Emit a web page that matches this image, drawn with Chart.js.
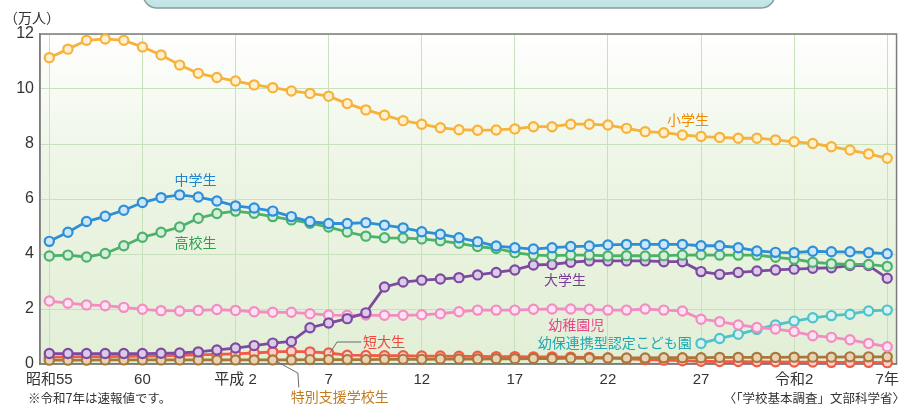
<!DOCTYPE html>
<html lang="ja">
<head>
<meta charset="utf-8">
<script src="https://cdn.jsdelivr.net/npm/chart.js@4/dist/chart.umd.min.js"></script>
<style>
  html, body { margin: 0; padding: 0; background: #fff; }
  canvas { display: block; }
</style>
</head>
<body>
<canvas id="grafic" width="906" height="405"></canvas>
<script>
// 昭和55年(1980) 〜 令和7年(2025)
const tickIdx = [0, 5, 10, 15, 20, 25, 30, 35, 40, 45];
const tickLabels = ['昭和55', '60', '平成 2', '7', '12', '17', '22', '27', '令和2', '7年'];

const shogaku = [11.14, 11.45, 11.77, 11.82, 11.77, 11.53, 11.24, 10.87, 10.57, 10.42,
  10.29, 10.15, 10.05, 9.93, 9.84, 9.74, 9.47, 9.24, 9.05, 8.85,
  8.72, 8.59, 8.52, 8.50, 8.51, 8.55, 8.63, 8.63, 8.72, 8.72,
  8.69, 8.57, 8.45, 8.41, 8.33, 8.27, 8.24, 8.21, 8.21, 8.15,
  8.08, 8.02, 7.90, 7.78, 7.64, 7.48];
const chugaku = [4.46, 4.79, 5.18, 5.37, 5.59, 5.87, 6.05, 6.15, 6.07, 5.93,
  5.75, 5.67, 5.56, 5.36, 5.18, 5.11, 5.11, 5.14, 5.05, 4.95,
  4.81, 4.72, 4.59, 4.45, 4.29, 4.23, 4.18, 4.23, 4.27, 4.29,
  4.33, 4.35, 4.35, 4.35, 4.35, 4.30, 4.30, 4.23, 4.11, 4.06,
  4.05, 4.10, 4.08, 4.08, 4.05, 4.01];
const kokou = [3.93, 3.96, 3.89, 4.02, 4.30, 4.61, 4.79, 4.98, 5.30, 5.47,
  5.56, 5.48, 5.36, 5.24, 5.12, 4.98, 4.80, 4.65, 4.59, 4.58,
  4.55, 4.48, 4.39, 4.27, 4.20, 4.05, 3.96, 3.94, 3.96, 3.96,
  3.93, 3.94, 3.93, 3.94, 3.96, 3.97, 3.96, 3.96, 3.96, 3.88,
  3.81, 3.70, 3.65, 3.62, 3.62, 3.55];
const daigaku = [0.38, 0.38, 0.38, 0.38, 0.38, 0.38, 0.39, 0.40, 0.44, 0.51,
  0.58, 0.67, 0.76, 0.82, 1.32, 1.49, 1.65, 1.86, 2.80, 2.98,
  3.05, 3.09, 3.14, 3.24, 3.33, 3.42, 3.60, 3.62, 3.70, 3.75,
  3.75, 3.75, 3.75, 3.72, 3.72, 3.36, 3.26, 3.33, 3.38, 3.42,
  3.45, 3.48, 3.50, 3.58, 3.58, 3.12];
const youchien = [2.29, 2.21, 2.15, 2.12, 2.06, 1.99, 1.94, 1.93, 1.95, 1.98,
  1.95, 1.90, 1.88, 1.88, 1.83, 1.78, 1.77, 1.78, 1.77, 1.77,
  1.79, 1.83, 1.90, 1.96, 1.96, 1.96, 1.99, 2.00, 2.00, 1.99,
  1.96, 1.96, 2.00, 1.96, 1.93, 1.63, 1.54, 1.42, 1.33, 1.27,
  1.18, 1.03, 0.97, 0.88, 0.75, 0.63];
const kodomoen = [null, null, null, null, null, null, null, null, null, null,
  null, null, null, null, null, null, null, null, null, null,
  null, null, null, null, null, null, null, null, null, null,
  null, null, null, null, null, 0.75, 0.93, 1.08, 1.26, 1.42,
  1.56, 1.68, 1.76, 1.81, 1.93, 1.96];
const tandai = [0.25, 0.26, 0.27, 0.27, 0.28, 0.29, 0.30, 0.31, 0.33, 0.35,
  0.37, 0.40, 0.44, 0.46, 0.44, 0.40, 0.32, 0.31, 0.30, 0.30,
  0.29, 0.29, 0.28, 0.28, 0.27, 0.27, 0.26, 0.26, 0.25, 0.24,
  0.22, 0.19, 0.16, 0.14, 0.12, 0.10, 0.09, 0.09, 0.08, 0.08,
  0.07, 0.07, 0.06, 0.06, 0.06, 0.05];
const tokubetsu = [0.14, 0.14, 0.14, 0.15, 0.15, 0.15, 0.15, 0.15, 0.15, 0.15,
  0.15, 0.15, 0.15, 0.15, 0.16, 0.16, 0.16, 0.16, 0.17, 0.17,
  0.17, 0.18, 0.18, 0.18, 0.19, 0.19, 0.20, 0.20, 0.21, 0.21,
  0.22, 0.22, 0.22, 0.23, 0.23, 0.23, 0.24, 0.24, 0.24, 0.24,
  0.25, 0.25, 0.25, 0.26, 0.26, 0.26];

const FONT = '"Liberation Sans", "Noto Sans CJK JP", sans-serif';
const JFONT = '"Noto Sans CJK JP", "Noto Sans", sans-serif';

const series = [
    { name: '小学生', data: shogaku, line: '#f6b23a', fill: '#fff1cf' },
    { name: '中学生', data: chugaku, line: '#2c8fd8', fill: '#cfe6f8' },
    { name: '高校生', data: kokou, line: '#4cb26a', fill: '#d6efdc' },
    { name: '大学生', data: daigaku, line: '#7d4aa0', fill: '#dccbe8' },
    { name: '幼稚園児', data: youchien, line: '#f28cc2', fill: '#fde3f0' },
    { name: '幼保連携型認定こども園', data: kodomoen, line: '#4ec3c9', fill: '#d9f3f4' },
    { name: '特別支援学校生', data: tokubetsu, line: '#a8773a', fill: '#e8d3b6' },
    { name: '短大生', data: tandai, line: '#f25a48', fill: '#fcd2cc' }
];

// ラベル（データ座標）
const notes = [
    { text: '小学生', x: 34.3, y: 8.87, color: '#f08a00', align: 'center' },
    { text: '中学生', x: 7.85, y: 6.69, color: '#1e86d0', align: 'center' },
    { text: '高校生', x: 7.85, y: 4.40, color: '#2e9e50', align: 'center' },
    { text: '大学生', x: 27.7, y: 3.05, color: '#7a3e98', align: 'center' },
    { text: '幼稚園児', x: 28.3, y: 1.42, color: '#e8468c', align: 'center' },
    { text: '幼保連携型認定こども園', x: 34.5, y: 0.76, color: '#1fa8b2', align: 'right' },
    { text: '短大生', x: 16.85, y: 0.80, color: '#f0483a', align: 'left' },
    { text: '特別支援学校生', x: 15.6, y: -1.2, color: '#c27a1e', align: 'center' }
];
const leaders = [
    [[15.07, 0.40], [15.45, 0.80], [16.75, 0.80]],
    [[12.2, 0.10], [13.35, -0.33], [13.4, -0.85]]
];

const fons = {
    id: 'fons',
    beforeDraw(chart) {
        const { ctx, chartArea: a } = chart;
        ctx.save();
        ctx.fillStyle = '#fff';
        ctx.fillRect(0, 0, chart.width, chart.height);

        // 上部のタイトル枠（切れている）
        ctx.beginPath();
        ctx.roundRect(143, -30, 632, 38, 14);
        const tg = ctx.createLinearGradient(0, -30, 0, 8);
        tg.addColorStop(0, '#e6f6f5');
        tg.addColorStop(1, '#bfe3e5');
        ctx.fillStyle = tg;
        ctx.fill();
        ctx.lineWidth = 1.5;
        ctx.strokeStyle = '#8f9c9c';
        ctx.stroke();

        const g = ctx.createLinearGradient(0, a.top, 0, a.bottom);
        g.addColorStop(0, '#ffffff');
        g.addColorStop(0.4, '#edf5e5');
        g.addColorStop(1, '#e2efd6');
        ctx.fillStyle = g;
        ctx.fillRect(a.left, a.top, a.right - a.left, a.bottom - a.top);
        ctx.restore();
    },
    beforeDatasetsDraw(chart) {
        const { ctx, chartArea: a } = chart;
        ctx.save();
        ctx.strokeStyle = '#7d7d7d';
        ctx.lineWidth = 1.5;
        ctx.strokeRect(a.left, a.top, a.right - a.left, a.bottom - a.top);
        ctx.restore();
    }
};

const etiquetes = {
    id: 'etiquetes',
    afterDraw(chart) {
        const { ctx, scales: { x, y } } = chart;
        ctx.save();
        ctx.strokeStyle = '#6b6b6b';
        ctx.lineWidth = 1;
        leaders.forEach(l => {
            ctx.beginPath();
            l.forEach((p, i) => {
                const px = x.getPixelForValue(p[0]), py = y.getPixelForValue(p[1]);
                if (i === 0) ctx.moveTo(px, py); else ctx.lineTo(px, py);
            });
            ctx.stroke();
        });

        ctx.font = '14px ' + JFONT;
        ctx.textBaseline = 'middle';
        notes.forEach(n => {
            ctx.fillStyle = n.color;
            ctx.textAlign = n.align;
            ctx.fillText(n.text, x.getPixelForValue(n.x), y.getPixelForValue(n.y));
        });

        ctx.fillStyle = '#333';
        ctx.textAlign = 'left';
        ctx.font = '14px ' + JFONT;
        ctx.fillText('（万人）', 4, 18);
        ctx.font = '12.5px ' + JFONT;
        ctx.fillText('※令和7年は速報値です。', 28, 398);
        ctx.textAlign = 'right';
        ctx.fillText('〈「学校基本調査」文部科学省〉', 905, 398);
        ctx.restore();
    }
};

const ctx = document.getElementById('grafic').getContext('2d');
new Chart(ctx, {
    type: 'line',
    data: {
        datasets: series.map(s => ({
            label: s.name,
            data: s.data.map((v, i) => ({ x: i, y: v })),
            borderColor: s.line,
            borderWidth: 2.8,
            pointRadius: 4.6,
            pointBorderWidth: 2.2,
            pointBorderColor: s.line,
            pointBackgroundColor: s.fill,
            tension: 0,
            spanGaps: false,
            clip: 8
        }))
    },
    options: {
        responsive: false,
        animation: false,
        layout: { padding: { top: 34, right: 8, left: 0, bottom: 0 } },
        plugins: {
            legend: { display: false },
            tooltip: { enabled: false }
        },
        scales: {
            x: {
                type: 'linear',
                min: -0.5,
                max: 45.5,
                afterBuildTicks: s => { s.ticks = tickIdx.map(v => ({ value: v })); },
                afterFit: s => { s.height = 41; },
                ticks: {
                    autoSkip: false,
                    maxRotation: 0,
                    padding: 7,
                    color: '#333',
                    font: { family: FONT, size: 15 },
                    callback: v => tickLabels[tickIdx.indexOf(v)]
                },
                grid: { color: '#c9e0bc', drawTicks: false },
                border: { display: true, color: '#7d7d7d', width: 1.5 }
            },
            y: {
                min: 0,
                max: 12,
                afterFit: s => { s.width = 40; },
                ticks: {
                    stepSize: 2,
                    padding: 6,
                    color: '#333',
                    font: { family: FONT, size: 16 }
                },
                grid: { color: '#c9e0bc', drawTicks: false },
                border: { display: true, color: '#7d7d7d', width: 1.5 }
            }
        }
    },
    plugins: [fons, etiquetes]
});
</script>
</body>
</html>
